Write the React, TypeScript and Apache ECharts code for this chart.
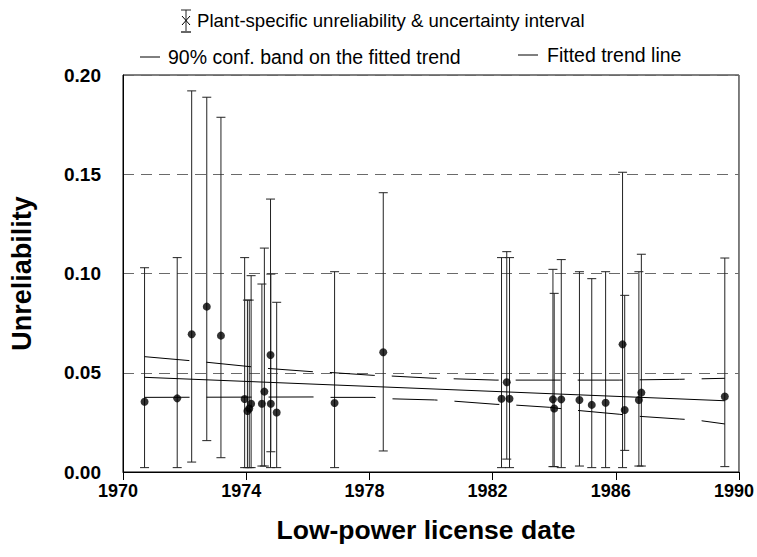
import React, { useEffect, useRef } from "react";
import * as echarts from "echarts";

// Plant-specific estimates (license year, mean unreliability, interval bounds)
const years = [1970.70, 1971.76, 1972.23, 1972.72, 1973.18, 1973.95, 1974.04, 1974.10, 1974.16, 1974.51, 1974.59, 1974.79, 1974.80, 1974.99, 1976.87, 1978.45, 1982.29, 1982.46, 1982.55, 1983.96, 1984.00, 1984.23, 1984.82, 1985.22, 1985.67, 1986.22, 1986.29, 1986.75, 1986.83, 1989.54];
const values = [0.0354, 0.0371, 0.0694, 0.0833, 0.0687, 0.0368, 0.0307, 0.0320, 0.0344, 0.0344, 0.0405, 0.0589, 0.0344, 0.0300, 0.0348, 0.0603, 0.0369, 0.0452, 0.0369, 0.0366, 0.0320, 0.0366, 0.0363, 0.0338, 0.0349, 0.0643, 0.0312, 0.0363, 0.0400, 0.0380];
const lowerBounds = [0.0022, 0.0022, 0.0050, 0.0158, 0.0072, 0.0022, 0.0022, 0.0022, 0.0022, 0.0030, 0.0030, 0.0022, 0.0102, 0.0022, 0.0022, 0.0106, 0.0022, 0.0065, 0.0022, 0.0027, 0.0027, 0.0022, 0.0030, 0.0022, 0.0022, 0.0022, 0.0109, 0.0030, 0.0030, 0.0027];
const upperBounds = [0.1029, 0.1080, 0.1920, 0.1888, 0.1787, 0.1080, 0.0866, 0.0866, 0.0989, 0.0947, 0.1128, 0.1375, 0.0997, 0.0855, 0.1009, 0.1407, 0.1080, 0.1110, 0.1080, 0.1021, 0.0900, 0.1070, 0.1009, 0.0974, 0.1009, 0.1510, 0.0890, 0.1009, 0.1097, 0.1078];

// Fitted trend line
const trendYears = [1970.70, 1989.54];
const trendValues = [0.0477, 0.0359];

// 90% confidence band
const bandUpperYears = [1970.70, 1972.17, 1972.71, 1974.17, 1974.68, 1976.17, 1976.66, 1978.12, 1978.65, 1980.11, 1980.65, 1982.11, 1982.65, 1984.63, 1986.11, 1988.06, 1989.54];
const bandUpperValues = [0.0581, 0.0561, 0.0553, 0.0530, 0.0522, 0.0505, 0.0502, 0.0487, 0.0484, 0.0472, 0.0470, 0.0463, 0.0463, 0.0463, 0.0463, 0.0467, 0.0472];
const bandLowerYears = [1970.70, 1976.17, 1976.66, 1978.12, 1978.65, 1980.11, 1980.65, 1982.11, 1982.65, 1983.84, 1984.63, 1986.11, 1986.61, 1988.06, 1988.60, 1989.54];
const bandLowerValues = [0.0376, 0.0378, 0.0376, 0.0376, 0.0369, 0.0363, 0.0358, 0.0341, 0.0338, 0.0326, 0.0312, 0.0291, 0.0282, 0.0267, 0.0262, 0.0242];

const xTicks = [1970, 1974, 1978, 1982, 1986, 1990];

const FONT = "'Liberation Sans', Arial, Helvetica, sans-serif";

export default function App() {
  const ref = useRef<HTMLDivElement>(null);

  useEffect(() => {
    if (!ref.current) return;
    const chart = echarts.init(ref.current, null, { renderer: "svg" });

    const errData = years.map((y, i) => [y, lowerBounds[i], upperBounds[i]]);
    const pts = years.map((y, i) => [y, values[i]]);
    const zip = (a: number[], b: number[]) => a.map((x, i) => [x, b[i]]);

    const option: any = {
      animation: false,
      backgroundColor: "#fff",
      grid: {
        left: 123,
        right: 17,
        top: 75,
        bottom: 85,
        show: true,
        borderColor: "#000",
        borderWidth: 1,
        backgroundColor: "transparent",
      },
      xAxis: {
        type: "value",
        min: xTicks[0],
        max: xTicks[xTicks.length - 1],
        interval: 4,
        name: "Low-power license date",
        nameLocation: "middle",
        nameGap: 44,
        nameTextStyle: { fontFamily: FONT, fontWeight: "bold", fontSize: 26.5, color: "#000", padding: [0, 10, 0, 0] },
        axisLine: { show: true, lineStyle: { color: "#000", width: 1 } },
        axisTick: { show: true, inside: false, length: 8, lineStyle: { color: "#000" } },
        axisLabel: {
          fontFamily: FONT,
          fontWeight: "bold",
          fontSize: 18,
          color: "#000",
          margin: 10,
          padding: [0, 10, 0, 0],
          formatter: (v: number) => String(v),
        },
        splitLine: { show: false },
      },
      yAxis: {
        type: "value",
        min: 0,
        max: 0.2,
        interval: 0.05,
        name: "Unreliability",
        nameLocation: "middle",
        nameGap: 88,
        nameRotate: 90,
        nameTextStyle: { fontFamily: FONT, fontWeight: "bold", fontSize: 27, color: "#000" },
        axisLine: { show: true, lineStyle: { color: "#000", width: 1 } },
        axisTick: { show: false },
        axisLabel: {
          fontFamily: FONT,
          fontWeight: "bold",
          fontSize: 19,
          color: "#000",
          margin: 22,
          formatter: (v: number) => v.toFixed(2),
        },
        splitLine: { show: true, lineStyle: { color: "#6a6a6a", width: 1, type: [11, 7] } },
      },
      series: [
        {
          type: "custom",
          name: "errorbars",
          data: errData,
          renderItem: (params: any, api: any) => {
            const x = api.value(0);
            const lo = api.coord([x, api.value(1)]);
            const hi = api.coord([x, api.value(2)]);
            const hw = 4.5;
            const style = { stroke: "#222", lineWidth: 1 };
            return {
              type: "group",
              children: [
                { type: "line", shape: { x1: lo[0], y1: lo[1], x2: hi[0], y2: hi[1] }, style },
                { type: "line", shape: { x1: hi[0] - hw, y1: hi[1], x2: hi[0] + hw, y2: hi[1] }, style },
                { type: "line", shape: { x1: lo[0] - hw, y1: lo[1], x2: lo[0] + hw, y2: lo[1] }, style },
              ],
            };
          },
          z: 2,
        },
        {
          type: "line",
          name: "Fitted trend line",
          data: zip(trendYears, trendValues),
          symbol: "none",
          lineStyle: { color: "#000", width: 1 },
          z: 3,
        },
        {
          type: "line",
          name: "band upper",
          data: zip(bandUpperYears, bandUpperValues),
          symbol: "none",
          lineStyle: { color: "#000", width: 1, type: [45, 17] },
          z: 3,
        },
        {
          type: "line",
          name: "band lower",
          data: zip(bandLowerYears, bandLowerValues),
          symbol: "none",
          lineStyle: { color: "#000", width: 1, type: [45, 17] },
          z: 3,
        },
        {
          type: "scatter",
          name: "Plant-specific",
          data: pts,
          symbol: "circle",
          symbolSize: 8,
          itemStyle: { color: "#000" },
          z: 4,
        },
      ],
      graphic: [
        // legend row 1: error-bar icon
        { type: "line", shape: { x1: 186, y1: 10, x2: 186, y2: 32 }, style: { stroke: "#222", lineWidth: 1 } },
        { type: "line", shape: { x1: 181, y1: 10, x2: 191, y2: 10 }, style: { stroke: "#222", lineWidth: 1 } },
        { type: "line", shape: { x1: 181, y1: 32, x2: 191, y2: 32 }, style: { stroke: "#666", lineWidth: 2 } },
        { type: "line", shape: { x1: 182, y1: 16, x2: 190, y2: 25 }, style: { stroke: "#000", lineWidth: 1 } },
        { type: "line", shape: { x1: 190, y1: 16, x2: 182, y2: 25 }, style: { stroke: "#000", lineWidth: 1 } },
        {
          type: "text",
          x: 197,
          y: 20,
          style: { text: "Plant-specific unreliability & uncertainty interval", fontFamily: FONT, fontSize: 18.6, fill: "#000", verticalAlign: "middle" },
        },
        // legend row 2
        { type: "line", shape: { x1: 140, y1: 57, x2: 160, y2: 57 }, style: { stroke: "#000", lineWidth: 1 } },
        {
          type: "text",
          x: 168,
          y: 57,
          style: { text: "90% conf. band on the fitted trend", fontFamily: FONT, fontSize: 19.5, fill: "#000", verticalAlign: "middle" },
        },
        { type: "line", shape: { x1: 518, y1: 55, x2: 538, y2: 55 }, style: { stroke: "#000", lineWidth: 1 } },
        {
          type: "text",
          x: 547,
          y: 55,
          style: { text: "Fitted trend line", fontFamily: FONT, fontSize: 19.5, fill: "#000", verticalAlign: "middle" },
        },
      ],
    };

    chart.setOption(option);
    return () => chart.dispose();
  }, []);

  return <div ref={ref} style={{ width: 757, height: 557, position: "absolute", left: 0, top: 0 }} />;
}
